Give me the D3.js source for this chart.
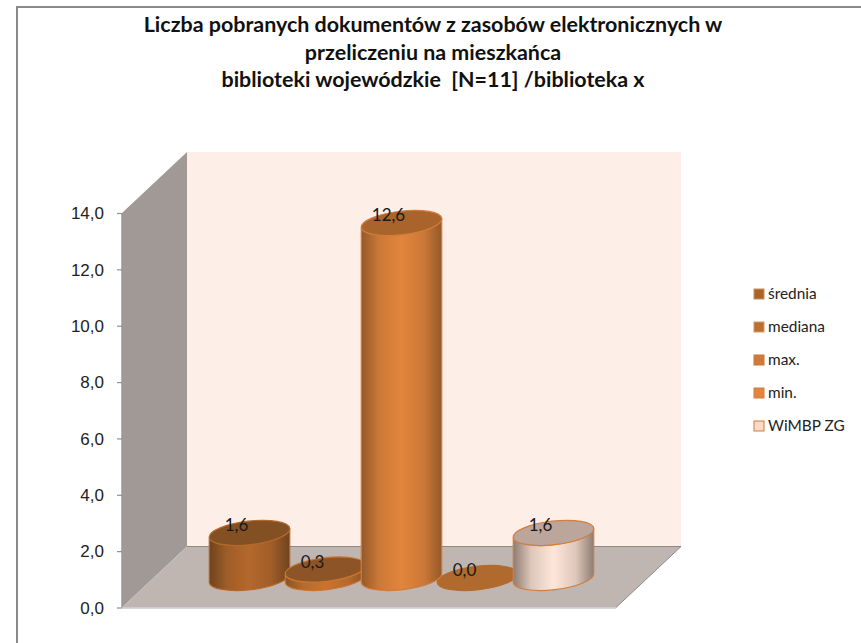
<!DOCTYPE html>
<html><head><meta charset="utf-8">
<script src="https://cdn.jsdelivr.net/npm/d3@7/dist/d3.min.js"></script>
<style>html,body{margin:0;padding:0;background:#fff}svg{display:block}</style>
</head><body><div id="c"></div>
<script>
const titleLines = ["Liczba pobranych dokumentów z zasobów elektronicznych w","przeliczeniu na mieszkańca","biblioteki wojewódzkie  [N=11] /biblioteka x"];
const categories = ["średnia","mediana","max.","min.","WiMBP ZG"];
const values = [1.6,0.3,12.6,0.0,1.6];
const valueLabels = ["1,6","0,3","12,6","0,0","1,6"];
const yTicks = [0,2,4,6,8,10,12,14];
const drawOrder = ["średnia","mediana","min.","max.","WiMBP ZG"];
const sideEdge = ["#6e431d","#8a5225","#94592a","#94592a","#8f7c72"];
const sideMid = ["#b4682c","#c9742f","#e2853d","#e2853d","#ffe6d9"];
const topFill = ["#835023","#8d5527","#a9642c","#b06a2e","#bca59a"];
const strokeCol = ["#b4682c","#c9742f","#d37b38","#b06a2e","#d07f40"];
const swatchFill = ["#a9622a","#bd6f30","#d07a38","#e2853d","#fdd9c8"];
const swatchStroke = ["#c9915f","#d29a6c","#c9773a","#d67f3c","#cf7c3c"];

const W=861,H=643;
const svg=d3.select("#c").append("svg").attr("width",W).attr("height",H).style("font-family","Lato, 'Open Sans', sans-serif");
const defs=svg.append("defs");

// frame
svg.append("path").attr("d",`M17 ${H}V7H${W}`).attr("fill","none").attr("stroke","#8a8a8a").attr("stroke-width",2);

// title
svg.append("g").selectAll("text").data(titleLines).join("text")
  .attr("x",433).attr("y",(d,i)=>32+i*27.5).attr("text-anchor","middle").style("white-space","pre")
  .attr("font-size",21.45).attr("font-weight",700).attr("fill","#111").text(d=>d);

const front={x0:122,x1:616}, depth={dx:65,dy:61};
const y=d3.scaleLinear().domain([0,14]).range([607.5,213]);
const x=d3.scaleBand().domain(categories).range([211.5,591.5]);
// walls
svg.append("polygon").attr("points",[[front.x0+depth.dx,y(14)-depth.dy],[front.x1+depth.dx,y(14)-depth.dy],[front.x1+depth.dx,y(0)-depth.dy],[front.x0+depth.dx,y(0)-depth.dy]].join(" ")).attr("fill","#fdeee7");
svg.append("polygon").attr("points",[[front.x0,y(0)],[front.x0,y(14)],[front.x0+depth.dx,y(14)-depth.dy],[front.x0+depth.dx,y(0)-depth.dy]].join(" ")).attr("fill","#a09995");
svg.append("polygon").attr("points",[[front.x0,y(0)],[front.x1,y(0)],[front.x1+depth.dx,y(0)-depth.dy],[front.x0+depth.dx,y(0)-depth.dy]].join(" ")).attr("fill","#bfb6b2");
svg.append("path").attr("d",`M${front.x0+depth.dx} ${y(0)-depth.dy}H${front.x1+depth.dx}L${front.x1} ${y(0)}`).attr("fill","none").attr("stroke","#8f8a88").attr("stroke-width",1);
svg.append("path").attr("d",`M${front.x0} ${y(0)+.5}H${front.x1}`).attr("stroke","#c8c8c8").attr("stroke-width",1.5);
svg.append("path").attr("d",`M${front.x0} ${y(14)}V${y(0)}`).attr("stroke","#9a9a9a").attr("stroke-width",1.5);

// axis
const axis=d3.axisLeft(y).tickValues(yTicks).tickSize(5).tickSizeOuter(0).tickPadding(13).tickFormat(d=>d3.format(".1f")(d).replace(".",","));
const ag=svg.append("g").attr("transform",`translate(${front.x0},0)`).call(axis);
ag.select(".domain").remove();
ag.selectAll("line").attr("stroke","#8f8f8f").attr("stroke-width",1.2);
ag.selectAll("text").attr("font-size",17).attr("fill","#222").attr("dy","0.34em");

// cylinders
const rx=40.5, ry=11.8, tilt=-6.5, baseY=y(0)-29.5;
const t=tilt*Math.PI/180;
const ex=rx*Math.cos(t), ey=rx*Math.sin(t);
categories.forEach((c,i)=>{
  const lg=defs.append("linearGradient").attr("id","g"+i).attr("x1",0).attr("x2",1).attr("y1",0).attr("y2",0);
  [[0,sideEdge[i]],[.22,d3.interpolateRgb(sideEdge[i],sideMid[i])(.7)],[.5,sideMid[i]],[.78,d3.interpolateRgb(sideEdge[i],sideMid[i])(.7)],[1,sideEdge[i]]]
    .forEach(s=>lg.append("stop").attr("offset",s[0]).attr("stop-color",s[1]));
});
const items=drawOrder.map(c=>{const i=categories.indexOf(c);return {c,i,v:values[i]};});
const place=d=>`translate(${x(d.c)+x.bandwidth()/2},${baseY})`;
const bars=svg.append("g").selectAll("g").data(items).join("g").attr("transform",place);
bars.filter(d=>d.v>0).append("path")
  .attr("d",d=>{const ht=y(0)-y(d.v);
    return `M${-ex} ${-ey-ht}L${-ex} ${-ey}A${rx} ${ry} ${tilt} 0 0 ${ex} ${ey}L${ex} ${ey-ht}A${rx} ${ry} ${tilt} 0 1 ${-ex} ${-ey-ht}Z`;})
  .attr("fill",d=>`url(#g${d.i})`).attr("stroke",d=>strokeCol[d.i]).attr("stroke-width",1.2);
bars.append("ellipse").attr("rx",rx).attr("ry",ry)
  .attr("transform",d=>`translate(0,${-(y(0)-y(d.v))}) rotate(${tilt})`)
  .attr("fill",d=>topFill[d.i]).attr("stroke",d=>strokeCol[d.i]).attr("stroke-width",1.2);
svg.append("g").selectAll("text").data(items).join("text").attr("transform",place)
  .attr("text-anchor","middle").attr("font-size",17).attr("fill","#1a1a1a")
  .attr("x",-13).attr("y",d=>-(y(0)-y(d.v))-2).text(d=>valueLabels[d.i]);

// legend
const lg=svg.append("g").selectAll("g").data(categories).join("g").attr("transform",(d,i)=>`translate(754,${294+i*33})`);
lg.append("rect").attr("x",0).attr("y",-5).attr("width",10).attr("height",10)
  .attr("fill",(d,i)=>swatchFill[i]).attr("stroke",(d,i)=>swatchStroke[i]).attr("stroke-width",1);
lg.append("text").attr("x",14).attr("dy","0.35em").attr("font-size",15.4).attr("fill","#222").text(d=>d);
</script></body></html>
